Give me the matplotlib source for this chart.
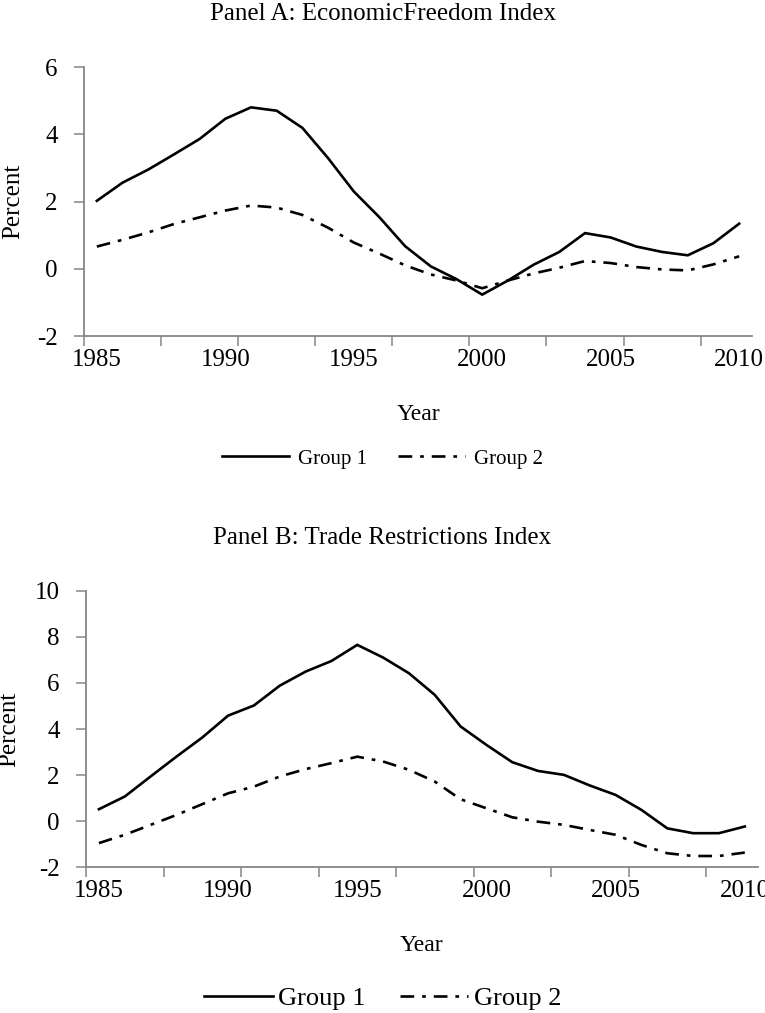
import matplotlib
matplotlib.use("Agg")
import matplotlib.pyplot as plt
from matplotlib.lines import Line2D
import numpy as np

plt.rcParams['font.family'] = ['Liberation Serif', 'DejaVu Serif']

years = list(range(1985, 2011))
year_labels = ["1985", "1990", "1995", "2000", "2005", "2010"]

panelA_group1 = [2.02, 2.56, 2.95, 3.40, 3.86, 4.46, 4.80, 4.70, 4.19, 3.29,
                 2.30, 1.53, 0.67, 0.07, -0.31, -0.77, -0.35, 0.12, 0.50, 1.06,
                 0.93, 0.66, 0.50, 0.40, 0.76, 1.34]
panelA_group2 = [0.66, 0.86, 1.08, 1.33, 1.53, 1.73, 1.88, 1.82, 1.60, 1.22,
                 0.78, 0.45, 0.10, -0.17, -0.35, -0.58, -0.35, -0.14, 0.03, 0.23,
                 0.17, 0.05, -0.02, -0.05, 0.13, 0.37]

panelB_group1 = [0.52, 1.07, 1.94, 2.80, 3.63, 4.58, 5.02, 5.88, 6.49, 6.95,
                 7.65, 7.10, 6.42, 5.48, 4.11, 3.31, 2.56, 2.18, 2.01, 1.55,
                 1.14, 0.49, -0.31, -0.52, -0.52, -0.23]
panelB_group2 = [-0.95, -0.59, -0.16, 0.27, 0.74, 1.21, 1.50, 1.94, 2.26, 2.52,
                 2.80, 2.59, 2.23, 1.72, 0.95, 0.56, 0.17, -0.02, -0.16, -0.38,
                 -0.59, -1.03, -1.39, -1.51, -1.51, -1.36]

W, H = 765, 1013
fig = plt.figure(figsize=(W / 100, H / 100), dpi=100)

GRAY = '#868686'
LW = 1.9
DASHDOT = (0, (5.2, 3.0, 1.4, 3.0))


def make_panel(rect, g1, g2, ylim, yticks, title, title_y, label_x, legend_y,
               legend_fs, handlelen, textpad, colspace):
    ax = fig.add_axes(rect)
    n = len(g1)
    x = np.arange(n) + 0.5
    ax.plot(x, g1, color='black', lw=LW, solid_joinstyle='miter', label='Group 1')
    ax.plot(x, g2, color='black', lw=LW, linestyle=DASHDOT, label='Group 2')
    ax.set_xlim(0, n)
    ax.set_ylim(*ylim)
    ax.set_yticks(yticks)
    ax.set_yticklabels([str(v) for v in yticks])
    # tick marks at category boundaries every 3 categories
    ax.set_xticks(np.arange(0, n, 3))
    ax.set_xticklabels([])
    ax.tick_params(axis='x', which='major', length=7, width=1.1, color=GRAY, direction='out')
    # labels at category centres every 5 categories
    label_pos = [years.index(int(s)) + 0.5 for s in year_labels]
    ax.set_xticks(label_pos, minor=True)
    ax.set_xticklabels(year_labels, minor=True, fontsize=18)
    ax.tick_params(axis='x', which='minor', length=0, pad=9)
    ax.tick_params(axis='y', length=7, width=1.1, color=GRAY, direction='out',
                   labelsize=18, pad=12)
    for s in ['top', 'right']:
        ax.spines[s].set_visible(False)
    for s in ['left', 'bottom']:
        ax.spines[s].set_color(GRAY)
        ax.spines[s].set_linewidth(1.3)
    ax.set_xlabel('Year', fontsize=17, labelpad=24)
    ax.set_ylabel('Percent', fontsize=18)
    ycen = rect[1] + rect[3] / 2
    ax.yaxis.set_label_coords(label_x, ycen, transform=fig.transFigure)
    ax.yaxis.label.set_va('center')
    fig.text(0.5, title_y, title, ha='center', va='center', fontsize=18)
    handles = [Line2D([], [], color='black', lw=LW),
               Line2D([], [], color='black', lw=LW, linestyle=DASHDOT)]
    fig.legend(handles, ['Group 1', 'Group 2'], loc='center',
               bbox_to_anchor=(0.5, legend_y), ncol=2, frameon=False,
               fontsize=legend_fs, handlelength=handlelen, handletextpad=textpad,
               columnspacing=colspace)
    return ax


make_panel([84 / W, 1 - 336 / H, 668 / W, 269 / H], panelA_group1, panelA_group2,
           (-2, 6), [-2, 0, 2, 4, 6], 'Panel A: EconomicFreedom Index',
           1 - 14 / H, 13 / W, 1 - 459 / H, 15, 3.2, 0.45, 1.5)

make_panel([86 / W, 1 - 867.3 / H, 671.7 / W, 276.6 / H], panelB_group1, panelB_group2,
           (-2, 10), [-2, 0, 2, 4, 6, 8, 10], 'Panel B: Trade Restrictions Index',
           1 - 538 / H, 9 / W, 1 - 998 / H, 19, 2.6, 0.2, 1.3)

fig.savefig('out.png', dpi=100)
